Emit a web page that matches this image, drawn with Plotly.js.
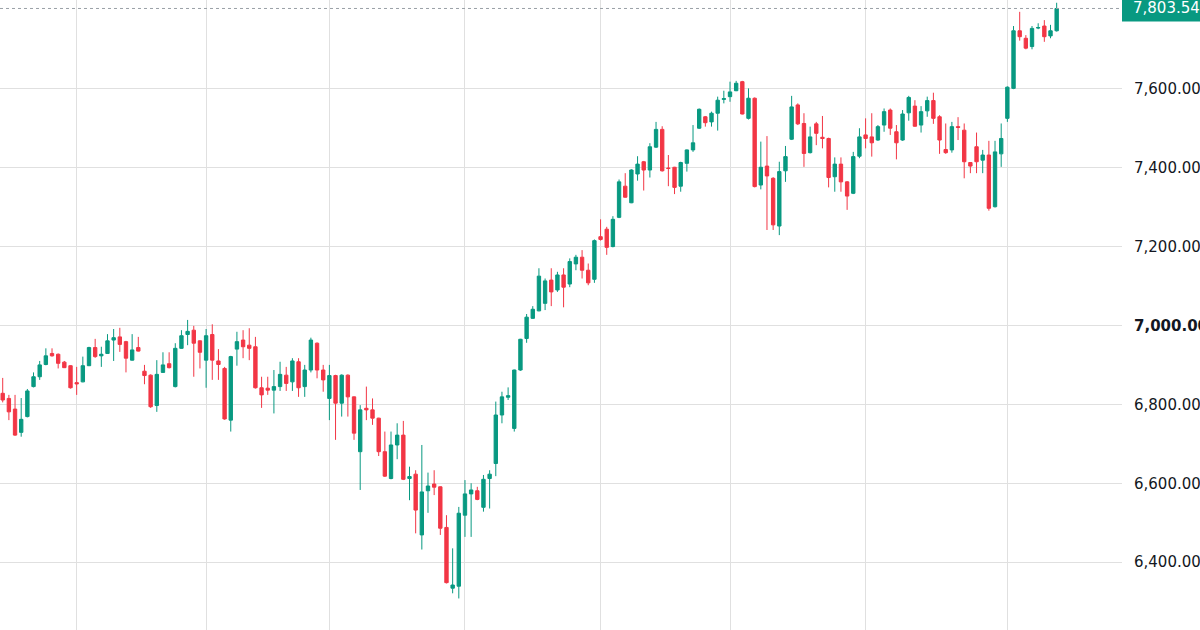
<!DOCTYPE html>
<html>
<head>
<meta charset="utf-8">
<script src="https://cdn.plot.ly/plotly-3.0.1.min.js"></script>
<style>
  html, body { margin: 0; padding: 0; background: #ffffff; }
  #chart { width: 1200px; height: 630px; }
</style>
</head>
<body>
<div id="chart"></div>
<script>
// daily candles (oldest first)
var openP = [6828, 6815, 6788, 6729, 6769, 6845, 6870, 6901, 6929, 6927, 6907, 6898, 6855, 6857, 6898, 6944, 6923, 6929, 6963, 6971,
  6959, 6912, 6944, 6884, 6874, 6797, 6881, 6903, 6845, 6942, 6977, 6988, 6961, 6912, 6977, 6910, 6891, 6760, 6940, 6963,
  6950, 6946, 6842, 6841, 6836, 6845, 6874, 6857, 6908, 6845, 6887, 6955, 6887, 6815, 6873, 6803, 6874, 6819, 6680, 6790,
  6786, 6765, 6680, 6612, 6697, 6722, 6612, 6623, 6469, 6581, 6598, 6591, 6488, 6334, 6339, 6519, 6573, 6581, 6539, 6612,
  6650, 6773, 6818, 6739, 6887, 6967, 7018, 7037, 7056, 7115, 7090, 7128, 7105, 7156, 7173, 7140, 7117, 7225, 7244, 7200,
  7274, 7353, 7311, 7384, 7415, 7394, 7452, 7497, 7399, 7401, 7353, 7411, 7445, 7500, 7529, 7516, 7538, 7573, 7580, 7595,
  7618, 7525, 7576, 7356, 7404, 7373, 7252, 7392, 7472, 7559, 7512, 7438, 7511, 7477, 7474, 7377, 7409, 7364, 7335, 7429,
  7483, 7478, 7470, 7508, 7546, 7491, 7470, 7539, 7556, 7508, 7544, 7570, 7529, 7446, 7445, 7504, 7495, 7413, 7453, 7419,
  7432, 7301, 7435, 7525, 7601, 7747, 7728, 7707, 7754, 7759, 7734, 7747];
var highP = [6867, 6824, 6824, 6816, 6839, 6881, 6910, 6942, 6942, 6929, 6910, 6899, 6895, 6921, 6946, 6966, 6946, 6978, 6991, 6994,
  6961, 6978, 6971, 6900, 6876, 6912, 6932, 6932, 6955, 6988, 7014, 6999, 6962, 6991, 7003, 6940, 6895, 6923, 6984, 6988,
  6993, 6971, 6870, 6870, 6887, 6908, 6895, 6917, 6917, 6900, 6969, 6957, 6900, 6900, 6875, 6876, 6876, 6820, 6798, 6845,
  6815, 6766, 6731, 6731, 6752, 6758, 6642, 6633, 6697, 6627, 6633, 6592, 6519, 6435, 6540, 6608, 6600, 6591, 6621, 6633,
  6807, 6832, 6843, 6888, 6966, 7029, 7049, 7145, 7119, 7145, 7136, 7145, 7170, 7179, 7191, 7157, 7218, 7269, 7250, 7277,
  7370, 7386, 7396, 7429, 7417, 7462, 7516, 7505, 7432, 7402, 7415, 7446, 7508, 7550, 7531, 7542, 7580, 7595, 7618, 7620,
  7620, 7601, 7578, 7466, 7480, 7376, 7415, 7455, 7582, 7563, 7538, 7504, 7516, 7531, 7476, 7426, 7426, 7366, 7440, 7500,
  7525, 7538, 7508, 7550, 7550, 7508, 7546, 7582, 7571, 7556, 7580, 7590, 7533, 7512, 7516, 7528, 7512, 7414, 7489, 7445,
  7468, 7468, 7512, 7606, 7759, 7795, 7736, 7759, 7766, 7774, 7762, 7818];
var lowP = [6805, 6760, 6720, 6718, 6767, 6843, 6862, 6899, 6921, 6891, 6892, 6840, 6824, 6856, 6897, 6918, 6895, 6928, 6910, 6933,
  6881, 6911, 6934, 6851, 6791, 6781, 6880, 6891, 6843, 6941, 6950, 6870, 6891, 6842, 6862, 6862, 6761, 6731, 6898, 6917,
  6912, 6840, 6791, 6824, 6777, 6834, 6834, 6834, 6819, 6819, 6881, 6866, 6832, 6760, 6710, 6769, 6769, 6710, 6583, 6760,
  6748, 6669, 6616, 6610, 6661, 6608, 6557, 6473, 6432, 6525, 6570, 6469, 6346, 6321, 6308, 6464, 6464, 6557, 6528, 6536,
  6618, 6752, 6811, 6731, 6885, 6956, 7017, 7036, 7039, 7049, 7085, 7046, 7097, 7140, 7119, 7102, 7108, 7215, 7179, 7198,
  7272, 7324, 7310, 7367, 7342, 7375, 7450, 7390, 7353, 7333, 7339, 7390, 7440, 7498, 7504, 7504, 7494, 7563, 7567, 7594,
  7535, 7522, 7350, 7345, 7242, 7242, 7229, 7364, 7470, 7508, 7402, 7436, 7457, 7449, 7350, 7339, 7339, 7293, 7333, 7424,
  7449, 7428, 7468, 7491, 7483, 7421, 7468, 7519, 7504, 7489, 7529, 7511, 7435, 7435, 7438, 7470, 7373, 7386, 7386, 7386,
  7291, 7299, 7402, 7516, 7599, 7722, 7700, 7700, 7751, 7719, 7728, 7745];
var closeP = [6811, 6781, 6722, 6762, 6834, 6870, 6900, 6923, 6923, 6904, 6893, 6842, 6852, 6898, 6944, 6921, 6927, 6961, 6969, 6952,
  6917, 6938, 6935, 6873, 6794, 6876, 6900, 6893, 6942, 6974, 6985, 6955, 6932, 6974, 6912, 6901, 6763, 6921, 6959, 6946,
  6942, 6842, 6824, 6836, 6845, 6876, 6853, 6910, 6842, 6887, 6963, 6887, 6862, 6873, 6803, 6874, 6819, 6727, 6786, 6786,
  6765, 6680, 6618, 6697, 6722, 6610, 6617, 6532, 6578, 6593, 6590, 6486, 6348, 6342, 6524, 6573, 6583, 6559, 6610, 6623,
  6773, 6819, 6822, 6887, 6965, 7021, 7041, 7125, 7113, 7085, 7128, 7097, 7162, 7173, 7140, 7108, 7215, 7218, 7198, 7269,
  7364, 7325, 7394, 7409, 7394, 7453, 7497, 7392, 7398, 7350, 7413, 7445, 7463, 7548, 7514, 7538, 7571, 7575, 7592, 7614,
  7536, 7576, 7352, 7401, 7379, 7255, 7390, 7428, 7554, 7511, 7436, 7478, 7487, 7474, 7375, 7409, 7364, 7328, 7428, 7478,
  7474, 7463, 7504, 7542, 7500, 7463, 7536, 7578, 7505, 7542, 7570, 7525, 7470, 7438, 7504, 7502, 7415, 7404, 7415, 7432,
  7297, 7440, 7474, 7604, 7747, 7732, 7703, 7753, 7755, 7732, 7747, 7803.54];

// first session of each month (vertical grid)
var monthStarts = [12, 33, 53, 75, 97, 118, 140, 163];
// price axis labels
var priceTicks = [6400, 6600, 6800, 7000, 7200, 7400, 7600];

var upColor = '#089981';
var downColor = '#f23645';

var idx = openP.map(function(v, i) { return i; });

function fmt(v) {
  return v.toLocaleString('en-US', {minimumFractionDigits: 2, maximumFractionDigits: 2});
}
var tickText = priceTicks.map(function(v) {
  return v === 7000 ? '<b>' + fmt(v) + '</b>' : fmt(v);
});

var lastClose = closeP[closeP.length - 1];

var trace = {
  type: 'candlestick',
  x: idx,
  open: openP,
  high: highP,
  low: lowP,
  close: closeP,
  increasing: {line: {color: upColor, width: 1}, fillcolor: upColor},
  decreasing: {line: {color: downColor, width: 1}, fillcolor: downColor},
  whiskerwidth: 0,
  hoverinfo: 'skip',
  showlegend: false
};

var layout = {
  width: 1200,
  height: 630,
  margin: {l: 0, r: 78, t: 0, b: 0, pad: 0},
  paper_bgcolor: '#ffffff',
  plot_bgcolor: '#ffffff',
  boxgap: 0.22,
  font: {family: 'DejaVu Sans, sans-serif', color: '#131722', size: 15},
  xaxis: {
    range: [-0.44, 181.6],
    tickvals: monthStarts,
    showticklabels: false,
    ticks: '',
    showgrid: true,
    gridcolor: '#e0e0e0',
    gridwidth: 1,
    zeroline: false,
    showline: false,
    rangeslider: {visible: false},
    fixedrange: true
  },
  yaxis: {
    side: 'right',
    range: [6228, 7825],
    tickvals: priceTicks,
    ticktext: tickText,
    ticks: '',
    ticklabelstandoff: 11,
    tickfont: {family: 'DejaVu Sans, sans-serif', size: 15, color: '#131722'},
    showgrid: true,
    gridcolor: '#e0e0e0',
    gridwidth: 1,
    zeroline: false,
    showline: false,
    fixedrange: true
  },
  shapes: [
    {
      type: 'line', xref: 'paper', yref: 'y',
      x0: 0, x1: 1, y0: lastClose, y1: lastClose,
      line: {color: '#9aa0a6', width: 1, dash: 'dot'}
    },
    {
      type: 'rect', xref: 'paper', yref: 'y',
      xsizemode: 'pixel', xanchor: 1, x0: 0, x1: 90,
      ysizemode: 'pixel', yanchor: lastClose, y0: -13, y1: 13,
      fillcolor: upColor, line: {width: 0}, layer: 'above'
    }
  ],
  annotations: [
    {
      xref: 'paper', yref: 'y', x: 1, y: lastClose,
      xanchor: 'left', yanchor: 'middle', xshift: 9,
      text: fmt(lastClose), showarrow: false,
      font: {family: 'DejaVu Sans, sans-serif', size: 15, color: '#ffffff'}
    }
  ]
};

Plotly.newPlot('chart', [trace], layout, {displayModeBar: false, staticPlot: true});
</script>
</body>
</html>
